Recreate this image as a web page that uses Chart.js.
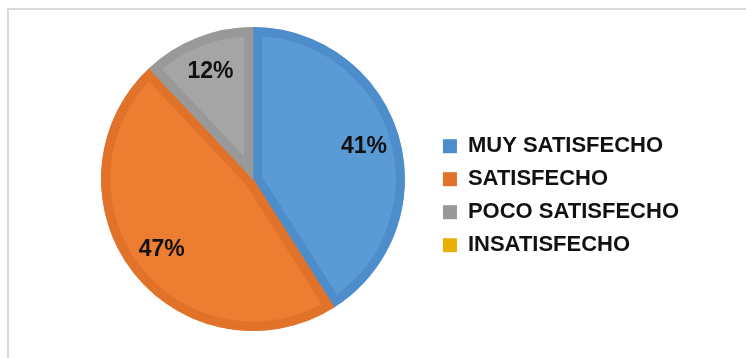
<!DOCTYPE html>
<html>
<head>
<meta charset="utf-8">
<script src="https://cdn.jsdelivr.net/npm/chart.js@4"></script>
<style>
    html, body { margin: 0; padding: 0; background: #fff; }
    #wrap { position: relative; width: 746px; height: 358px; overflow: hidden; }
    #frame {
        position: absolute; left: 7px; top: 8px; width: 760px; height: 370px;
        border-top: 2px solid #d9d9d9; border-left: 2px solid #d9d9d9;
        box-sizing: border-box;
    }
    #survey-chart { position: absolute; left: 0; top: 0; }
</style>
</head>
<body>
<div id="wrap">
    <div id="frame"></div>
    <canvas id="survey-chart" width="746" height="358"></canvas>
</div>
<script>
// Satisfaction survey results (percent)
const categories = ['MUY SATISFECHO', 'SATISFECHO', 'POCO SATISFECHO', 'INSATISFECHO'];
const percentages = [41, 47, 12, 0];

const fillColors = ['#5b9bd5', '#ed7d31', '#a5a5a5', '#ffc000'];
const edgeColors = ['#4d8dcb', '#e0722a', '#999999', '#e8b000'];

const labelFont = "'Liberation Sans', Arial, sans-serif";

// Percent labels drawn inside each slice
const sliceLabels = {
    id: 'sliceLabels',
    afterDatasetsDraw(chart) {
        const ctx = chart.ctx;
        const meta = chart.getDatasetMeta(0);
        ctx.save();
        ctx.font = 'bold 23px ' + labelFont;
        ctx.fillStyle = '#111';
        ctx.textAlign = 'center';
        ctx.textBaseline = 'middle';
        meta.data.forEach((arc, i) => {
            const value = percentages[i];
            if (!value) return;
            const p = arc.getProps(['x', 'y', 'startAngle', 'endAngle', 'outerRadius'], true);
            const mid = (p.startAngle + p.endAngle) / 2;
            const r = p.outerRadius * 0.76;
            ctx.fillText(value + '%', p.x + Math.cos(mid) * r, p.y + Math.sin(mid) * r);
        });
        ctx.restore();
    }
};

new Chart(document.getElementById('survey-chart').getContext('2d'), {
    type: 'pie',
    data: {
        labels: categories,
        datasets: [{
            data: percentages,
            backgroundColor: fillColors,
            borderColor: edgeColors,
            borderWidth: 9,
            borderAlign: 'inner'
        }]
    },
    options: {
        responsive: false,
        animation: false,
        layout: {
            padding: { top: 27, bottom: 27, left: 74, right: 57 }
        },
        plugins: {
            tooltip: { enabled: false },
            legend: {
                position: 'right',
                title: { display: true, text: '', padding: { top: 0, bottom: 19 } },
                labels: {
                    boxWidth: 14,
                    boxHeight: 14,
                    padding: 11,
                    color: '#111',
                    font: { family: labelFont, size: 22, weight: 'bold' },
                    generateLabels(chart) {
                        return categories.map((name, i) => ({
                            text: name,
                            fillStyle: edgeColors[i],
                            strokeStyle: edgeColors[i],
                            fontColor: '#111',
                            lineWidth: 0,
                            hidden: false,
                            index: i
                        }));
                    }
                }
            }
        }
    },
    plugins: [sliceLabels]
});
</script>
</body>
</html>
